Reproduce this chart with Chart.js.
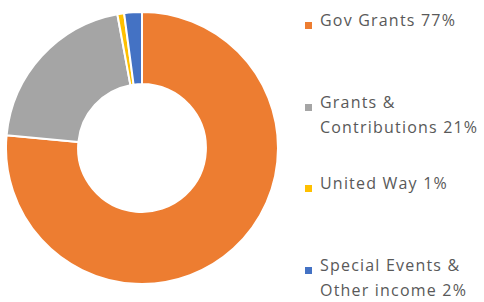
<!DOCTYPE html>
<html>
<head>
<meta charset="utf-8">
<script src="https://cdn.jsdelivr.net/npm/chart.js@4/dist/chart.umd.min.js"></script>
<style>
    html, body { margin: 0; padding: 0; background: #fff; }
    body { width: 484px; height: 302px; position: relative; overflow: hidden; font-family: "Open Sans", sans-serif; }
    #chartBox { position: absolute; left: 5px; top: 11px; width: 274px; height: 274px; }
    .item { position: absolute; left: 320px; width: 170px; font-size: 16px; line-height: 25px; letter-spacing: 1.2px; color: #595959; }
    .item .mark { position: absolute; left: -15px; top: 14px; width: 7px; height: 7px; }
</style>
</head>
<body>
<div id="chartBox"><canvas id="fontes"></canvas></div>
<div id="legenda"></div>
<script>
const categorias = ['Gov Grants', 'Grants & Contributions', 'United Way', 'Special Events & Other income'];
const valores = [76.5, 20.6, 0.8, 2.1];
const rotulosPct = ['77%', '21%', '1%', '2%'];
const cores = ['#ED7D31', '#A5A5A5', '#FFC000', '#4472C4'];
const topoLegenda = [8, 90, 171, 253];

const ctx = document.getElementById('fontes').getContext('2d');
const fontes = new Chart(ctx, {
    type: 'doughnut',
    data: {
        labels: categorias,
        datasets: [{
            data: valores,
            backgroundColor: cores,
            borderColor: '#ffffff',
            borderWidth: 2
        }]
    },
    options: {
        responsive: true,
        maintainAspectRatio: false,
        animation: false,
        cutout: '47%',
        layout: { padding: 0 },
        plugins: {
            legend: { display: false },
            tooltip: { enabled: false }
        }
    }
});

// legenda em HTML, a partir dos dados do grafico
const leg = document.getElementById('legenda');
categorias.forEach((nome, i) => {
    const div = document.createElement('div');
    div.className = 'item';
    div.style.top = topoLegenda[i] + 'px';
    const m = document.createElement('span');
    m.className = 'mark';
    m.style.background = cores[i];
    div.appendChild(m);
    div.appendChild(document.createTextNode(nome + ' ' + rotulosPct[i]));
    leg.appendChild(div);
});
</script>
</body>
</html>
